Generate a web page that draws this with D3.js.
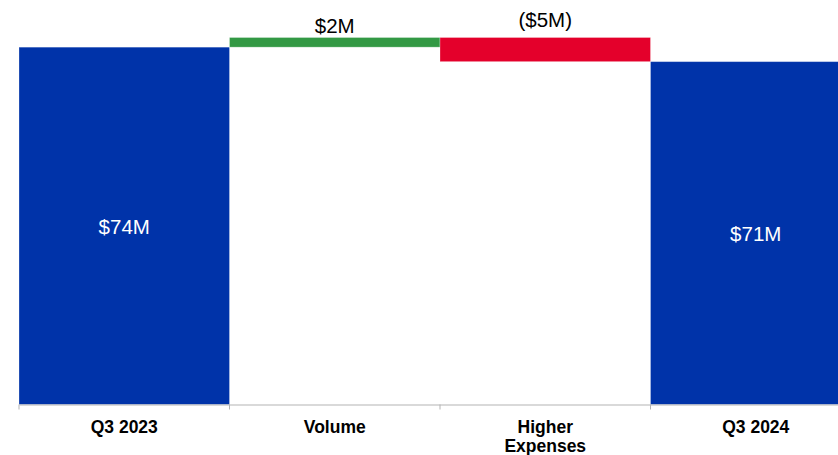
<!DOCTYPE html>
<html>
<head>
<meta charset="utf-8">
<script src="https://cdn.jsdelivr.net/npm/d3@7"></script>
<style>
html,body{margin:0;padding:0;background:#fff;overflow:hidden;}
svg{display:block;font-family:"Liberation Sans",Arial,sans-serif;}
</style>
</head>
<body>
<svg id="chart" width="838" height="455"></svg>
<script>
// Data
const categories = ["Q3 2023", "Volume", "Higher Expenses", "Q3 2024"];
const values = [74, 2, -5, 71];
const kinds = ["total", "delta", "delta", "total"];
const valueLabels = ["$74M", "$2M", "($5M)", "$71M"];

// Build waterfall steps
let run = 0;
const steps = categories.map((c, i) => {
  let y0, y1;
  if (kinds[i] === "total") { y0 = 0; y1 = values[i]; run = values[i]; }
  else { y0 = run; y1 = run + values[i]; run = y1; }
  return { cat: c, v: values[i], kind: kinds[i], label: valueLabels[i], lo: Math.min(y0, y1), hi: Math.max(y0, y1) };
});

const colors = { total: "#0033A9", up: "#339944", down: "#E4002B" };

const svg = d3.select("#chart");
const x = d3.scaleBand().domain(categories).range([19, 861]).padding(0);
const yMax = d3.max(steps, d => d.hi);
const y = d3.scaleLinear().domain([0, yMax]).range([404.5, 37.5]);

// Bars
svg.append("g").selectAll("rect").data(steps).join("rect")
  .attr("x", d => x(d.cat))
  .attr("width", x.bandwidth())
  .attr("y", d => y(d.hi))
  .attr("height", d => y(d.lo) - y(d.hi))
  .attr("fill", d => d.kind === "total" ? colors.total : (d.v >= 0 ? colors.up : colors.down))
  .attr("stroke", "rgba(255,255,255,0.35)")
  .attr("stroke-width", 0.8);

// Axis
const axis = svg.append("g").attr("transform", `translate(0,${y(0)})`)
  .call(d3.axisBottom(x).tickSize(0).tickPadding(0));
axis.select(".domain").attr("stroke", "#b3b3b3").attr("stroke-width", 1.2);
axis.selectAll(".tick text")
  .attr("fill", "#000")
  .attr("font-size", "17.5px")
  .attr("font-weight", "bold")
  .attr("font-family", "'Liberation Sans', Arial, sans-serif")
  .attr("dy", null)
  .attr("y", 28)
  .each(function(d) {
    const t = d3.select(this);
    const words = d.split(" ");
    if (t.node().getComputedTextLength() > 110 && words.length > 1) {
      t.text(null);
      const half = Math.ceil(words.length / 2);
      t.append("tspan").attr("x", 0).attr("y", 28).text(words.slice(0, half).join(" "));
      t.append("tspan").attr("x", 0).attr("y", 47.5).text(words.slice(half).join(" "));
    }
  });

// Boundary ticks
const bounds = categories.map(c => x(c));
axis.append("g").selectAll("line").data(bounds).join("line")
  .attr("x1", d => d).attr("x2", d => d)
  .attr("y1", 0).attr("y2", 5)
  .attr("stroke", "#b3b3b3").attr("stroke-width", 1);

// Value labels
svg.append("g").selectAll("text").data(steps).join("text")
  .attr("x", d => x(d.cat) + x.bandwidth() / 2)
  .attr("y", d => d.kind === "total" ? (y(d.hi) + y(0)) / 2 + 8 : y(yMax) - (d.v >= 0 ? 5 : 11))
  .attr("text-anchor", "middle")
  .attr("font-size", "20.5px")
  .attr("fill", d => d.kind === "total" ? "#fff" : "#000")
  .text(d => d.label);
</script>
</body>
</html>
